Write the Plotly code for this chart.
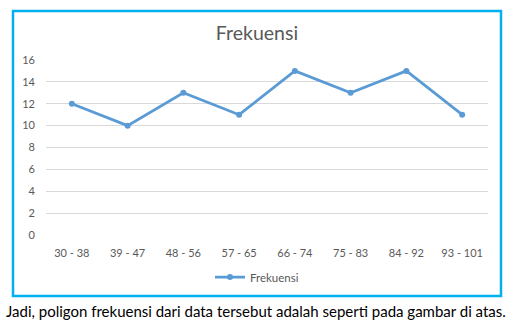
import plotly.graph_objects as go

categories = ["30 - 38", "39 - 47", "48 - 56", "57 - 65", "66 - 74", "75 - 83", "84 - 92", "93 - 101"]
frekuensi = [12, 10, 13, 11, 15, 13, 15, 11]
y_ticks = [0, 2, 4, 6, 8, 10, 12, 14, 16]

W, H = 513, 327
L, R, T, B = 46, 25, 60, 92
ph = H - T - B
pw = W - L - R

FONT = "Lato"
GRAY = "#595959"

fig = go.Figure()
fig.add_trace(go.Scatter(
    x=categories, y=frekuensi, mode="lines+markers", name="Frekuensi",
    line=dict(color="#5B9BD5", width=2.75),
    marker=dict(color="#5B9BD5", size=6),
    cliponaxis=False,
))

fig.update_layout(
    width=W, height=H,
    margin=dict(l=L, r=R, t=T, b=B),
    paper_bgcolor="white", plot_bgcolor="white",
    font=dict(family=FONT, color=GRAY, size=11),
    title=dict(text="Frekuensi", x=257 / W, xanchor="center", xref="container",
               y=1 - 33 / H, yanchor="middle",
               font=dict(family=FONT, size=19.5, color=GRAY)),
    showlegend=True,
    legend=dict(orientation="h", x=(257 - L) / pw, xanchor="center", y=(0 - 42) / ph, yanchor="middle",
                font=dict(family=FONT, size=11.5, color=GRAY), itemwidth=30),
    xaxis=dict(showgrid=False, showline=False, ticks="", tickfont=dict(size=11, color=GRAY),
               ticklabelstandoff=10),
    yaxis=dict(range=[0, 16], tickvals=y_ticks, showgrid=True, gridcolor="#D9D9D9", gridwidth=1,
               zeroline=False, showline=False, ticks="", tickfont=dict(size=11, color=GRAY),
               ticklabelstandoff=10),
)

# chart border
fig.add_shape(type="rect", xref="paper", yref="paper",
              x0=(13 - L) / pw, x1=(501 - L) / pw,
              y0=(H - B - 296) / ph, y1=(H - B - 11) / ph,
              line=dict(color="#00B0F0", width=2.5), fillcolor="rgba(0,0,0,0)", layer="below")

fig.add_annotation(text="Jadi, poligon frekuensi dari data tersebut adalah seperti pada gambar di atas.",
                   xref="paper", yref="paper", x=(4 - L) / pw, y=(H - B - 311) / ph,
                   xanchor="left", yanchor="middle", showarrow=False,
                   font=dict(family=FONT, size=15, color="black"))

fig.write_html("out.html")
